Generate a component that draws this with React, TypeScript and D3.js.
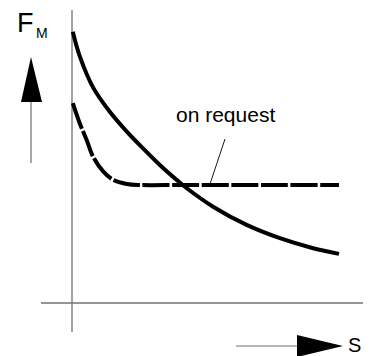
import React from "react";
import * as d3 from "d3";

// s positions (arbitrary units 0..10) and force values
const sSolid = [0, 0.26, 0.76, 1.39, 2.02, 2.64, 3.27, 3.9, 4.27, 5.27, 6.53, 7.78, 9.03, 10];
const fSolid = [10.0, 9.1, 7.95, 7.05, 6.33, 5.7, 5.09, 4.54, 4.24, 3.55, 2.88, 2.39, 2.02, 1.81];

const sDashed = [0, 0.26, 0.52, 0.76, 1.14, 1.52, 2.02, 2.52, 4.0, 6.0, 8.0, 10];
const fDashed = [7.37, 6.63, 6.01, 5.4, 4.85, 4.54, 4.39, 4.35, 4.35, 4.35, 4.35, 4.35];

const annotationText = "on request";
const yLabel = "F";
const yLabelSub = "M";
const xLabel = "S";

const W = 371;
const H = 356;

export default function App() {
  const x = d3.scaleLinear().domain([0, 10]).range([72.8, 339]);
  const y = d3.scaleLinear().domain([0, 10]).range([303, 31.8]);

  const line = d3
    .line<[number, number]>()
    .x((d) => x(d[0]))
    .y((d) => y(d[1]))
    .curve(d3.curveCatmullRom.alpha(0.5));

  const solidPts: [number, number][] = sSolid.map((s, i) => [s, fSolid[i]]);
  const dashedPts: [number, number][] = sDashed.map((s, i) => [s, fDashed[i]]);

  const axisColor = "#707070";
  const font = "Arial, 'Liberation Sans', sans-serif";

  return (
    <svg
      width={W}
      height={H}
      style={{ position: "absolute", left: 0, top: 0, background: "#fff" }}
    >
      {/* axes */}
      <line x1={72} y1={10} x2={72} y2={332} stroke={axisColor} strokeWidth={1.3} />
      <line x1={41} y1={303} x2={363} y2={303} stroke={axisColor} strokeWidth={1.3} />

      {/* y arrow */}
      <line x1={31} y1={163} x2={31} y2={100} stroke={axisColor} strokeWidth={1.2} />
      <polygon points="31,57 21,102 42,102" fill="#000" />

      {/* x arrow */}
      <line x1={236} y1={346} x2={298} y2={346} stroke={axisColor} strokeWidth={1.2} />
      <polygon points="343,346 297,335 297,357" fill="#000" />

      {/* curves */}
      <path d={line(solidPts) || ""} fill="none" stroke="#000" strokeWidth={4} />
      <path
        d={line(dashedPts) || ""}
        fill="none"
        stroke="#000"
        strokeWidth={4}
        strokeDasharray="27 2.6"
      />

      {/* annotation leader */}
      <line x1={225} y1={139} x2={210} y2={184} stroke="#000" strokeWidth={0.9} />
      <text x={176} y={122} fontFamily={font} fontSize={21} fill="#000">
        {annotationText}
      </text>

      {/* labels */}
      <text x={17} y={32} fontFamily={font} fontSize={27} fill="#000">
        {yLabel}
      </text>
      <text x={36} y={38} fontFamily={font} fontSize={14} fill="#000">
        {yLabelSub}
      </text>
      <text x={348} y={351.5} fontFamily={font} fontSize={20} fill="#000">
        {xLabel}
      </text>
    </svg>
  );
}
